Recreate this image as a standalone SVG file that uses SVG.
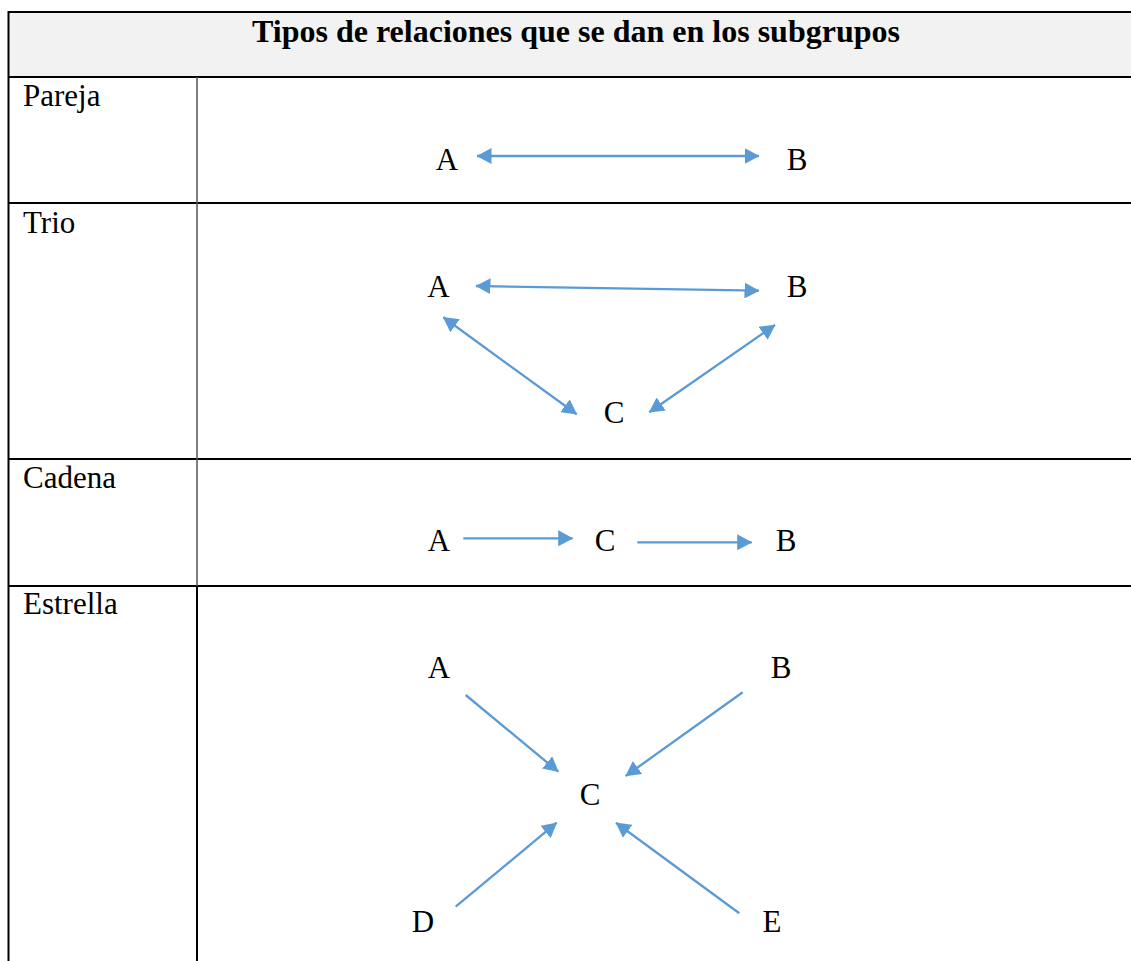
<svg xmlns="http://www.w3.org/2000/svg" width="1131" height="961" viewBox="0 0 1131 961">
<style>
.t{font-family:'Liberation Serif','Times New Roman',serif;font-size:31px;fill:#000}
.h{font-family:'Liberation Serif','Times New Roman',serif;font-size:32px;font-weight:700;fill:#000}
.n{font-family:'Liberation Serif','Times New Roman',serif;font-size:31px;fill:#000;text-anchor:middle}
.b{stroke:#000;stroke-width:2;fill:none}
.g{stroke:#555;stroke-width:1.5;fill:none}
.c{stroke:#5b9bd5;stroke-width:2.3;fill:none}
.s{marker-end:url(#ah)}
.d{marker-start:url(#ah);marker-end:url(#ah)}
</style>
<defs>
<marker id="ah" viewBox="0 0 15 16" markerWidth="15" markerHeight="16" refX="14.5" refY="8" markerUnits="userSpaceOnUse" orient="auto-start-reverse">
<path d="M0,0 L15,8 L0,16 z" fill="#5b9bd5"/>
</marker>
</defs>
<rect width="1131" height="961" fill="#fff"/>
<g id="table">
<rect x="8.5" y="12" width="1123" height="65" fill="#f2f2f2"/>
<line class="b" x1="8.5" y1="12" x2="1131" y2="12"/>
<line class="b" x1="8.5" y1="77" x2="1131" y2="77"/>
<line class="b" x1="8.5" y1="203" x2="1131" y2="203"/>
<line class="b" x1="8.5" y1="459" x2="1131" y2="459"/>
<line class="b" x1="8.5" y1="586" x2="1131" y2="586"/>
<line class="b" x1="8.5" y1="11" x2="8.5" y2="961"/>
<line class="g" x1="197" y1="77" x2="197" y2="586"/>
<line class="b" x1="197" y1="586" x2="197" y2="961"/>
<text class="h" x="576" y="42" text-anchor="middle">Tipos de relaciones que se dan en los subgrupos</text>
<text class="t" x="23" y="106">Pareja</text>
<text class="t" x="23" y="233">Trio</text>
<text class="t" x="23" y="488">Cadena</text>
<text class="t" x="23" y="614">Estrella</text>
</g>
<g id="pareja">
<g id="pareja-A"><text class="n" x="447" y="170">A</text></g>
<g id="pareja-B"><text class="n" x="797" y="170">B</text></g>
</g>
<g id="trio">
<g id="trio-A"><text class="n" x="438.5" y="297">A</text></g>
<g id="trio-B"><text class="n" x="797" y="297">B</text></g>
<g id="trio-C"><text class="n" x="614" y="423">C</text></g>
</g>
<g id="cadena">
<g id="cadena-A"><text class="n" x="439" y="551">A</text></g>
<g id="cadena-C"><text class="n" x="605" y="551">C</text></g>
<g id="cadena-B"><text class="n" x="786" y="551">B</text></g>
</g>
<g id="estrella">
<g id="estrella-A"><text class="n" x="439" y="678">A</text></g>
<g id="estrella-B"><text class="n" x="781" y="678">B</text></g>
<g id="estrella-C"><text class="n" x="590" y="805">C</text></g>
<g id="estrella-D"><text class="n" x="423" y="932">D</text></g>
<g id="estrella-E"><text class="n" x="772" y="932">E</text></g>
</g>
<g id="connectors">
<line class="c d" x1="477" y1="156" x2="759" y2="156"/>
<line class="c d" x1="476" y1="286" x2="759" y2="290.7"/>
<line class="c d" x1="443.3" y1="317.3" x2="576.7" y2="414.3"/>
<line class="c d" x1="775" y1="325" x2="649.3" y2="412.3"/>
<line class="c s" x1="463.3" y1="538.3" x2="572.7" y2="538.3"/>
<line class="c s" x1="637.3" y1="542.3" x2="751.7" y2="542.3"/>
<line class="c s" x1="465.7" y1="695" x2="558.3" y2="771.7"/>
<line class="c s" x1="742.7" y1="692.3" x2="625.7" y2="776"/>
<line class="c s" x1="455.7" y1="906.7" x2="556.7" y2="822.7"/>
<line class="c s" x1="739.3" y1="913.3" x2="616" y2="822.7"/>
</g>
</svg>
